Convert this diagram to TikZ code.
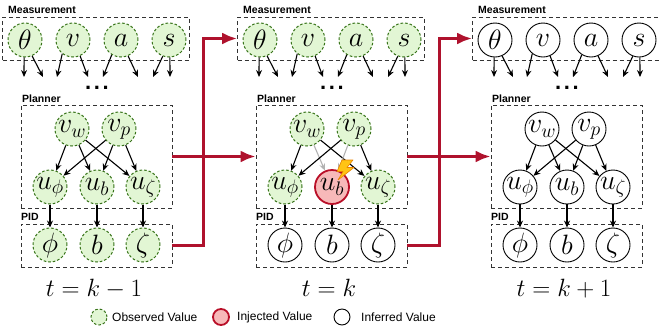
\RequirePackage{fix-cm}
\documentclass[tikz,border=0pt]{standalone}
\usepackage{fontspec}
\setsansfont{Liberation Sans}
\usetikzlibrary{arrows.meta,calc}
\definecolor{obsfill}{RGB}{226,246,212}
\definecolor{obsdraw}{RGB}{55,115,25}
\definecolor{injfill}{RGB}{247,185,185}
\definecolor{injdraw}{RGB}{185,15,40}
\definecolor{crim}{RGB}{175,18,45}
\definecolor{boltfill}{RGB}{255,196,20}
\definecolor{boltdraw}{RGB}{232,130,0}
\newcommand\mfont{\fontsize{28}{32}\selectfont}
\newcommand\drawpanel[9]{%
\begin{scope}[xshift=#1]
\node[box, minimum width=186.5pt, minimum height=43pt] (#2meas) at (95.75,38.5) {};
\node[lab] (#2measlab) at (8,13) {Measurement};
\node[#3] (#2th) at (25,40) {$\theta$};
\node[#3] (#2v) at (73,40) {$v$};
\node[#3] (#2a) at (121,40) {$a$};
\node[#3] (#2s) at (169,40) {$s$};
\coordinate (#2e1) at (24,77);
\coordinate (#2e2) at (43,77);
\coordinate (#2e3) at (57,77);
\coordinate (#2e4) at (88,77);
\coordinate (#2e5) at (103,77);
\coordinate (#2e6) at (138,77);
\coordinate (#2e7) at (153,77);
\coordinate (#2e8) at (170,77);
\draw[arr] (#2th.-93) -- (#2e1);
\draw[arr] (#2th.-66) -- (#2e2);
\draw[arr] (#2v.-128) -- (#2e3);
\draw[arr] (#2v.-66) -- (#2e4);
\draw[arr] (#2a.-122) -- (#2e5);
\draw[arr] (#2a.-66) -- (#2e6);
\draw[arr] (#2s.-111) -- (#2e7);
\draw[arr] (#2s.-87) -- (#2e8);
\node[dotsty] (#2dots) at (97,88) {.\kern2.6pt.\kern2.6pt.};
\node[box, minimum width=151pt, minimum height=103pt] (#2plan) at (96.5,156.5) {};
\node[lab] (#2planlab) at (22,102) {Planner};
\node[#4] (#2vw) at (72,129) {$v_w$};
\node[#4] (#2vp) at (119,129) {$v_p$};
\node[#5] (#2uf) at (50,187) {$u_\phi$};
\node[#6] (#2ub) at (97,187) {$u_b$};
\node[#5] (#2uz) at (143,187) {$u_\zeta$};
\node[box, minimum width=151pt, minimum height=43pt] (#2pid) at (96.5,245.5) {};
\node[lab] (#2pidlab) at (21,220) {PID};
\node[#7] (#2f) at (50,245) {$\phi$};
\node[#7] (#2b) at (97,245) {$b$};
\node[#7] (#2z) at (143,245) {$\zeta$};
\draw[arr] (#2vw) -- (#2uf);
\draw[arr, draw=#8] (#2vw) -- (#2ub);
\draw[arr] (#2vw) -- (#2uz);
\draw[arr] (#2vp) -- (#2uf);
\draw[arr, draw=#8] (#2vp) -- (#2ub);
\draw[arr] (#2vp) -- (#2uz);
\draw[arr] (#2uf) -- (#2f);
\draw[arr] (#2ub) -- (#2b);
\draw[arr] (#2uz) -- (#2z);
\node[tlab] (#2t) at (94,296) {$t=#9$};
\end{scope}}
\begin{document}
\begin{tikzpicture}[x=1pt,y=-1pt,
  every node/.style={inner sep=0pt},
  basec/.style={circle, minimum size=34pt, inner sep=0pt, font=\mfont},
  obs/.style={basec, fill=obsfill, draw=obsdraw, dash pattern=on 2.6pt off 2pt, line width=1pt},
  inj/.style={basec, fill=injfill, draw=injdraw, line width=1.8pt},
  inf/.style={basec, fill=white, draw=black, line width=0.9pt},
  box/.style={rectangle, draw=black!80, dash pattern=on 4pt off 3pt, line width=0.8pt},
  lab/.style={anchor=base west, font=\sffamily\bfseries\fontsize{10.5}{12}\selectfont},
  dotsty/.style={font=\sffamily\bfseries\fontsize{22}{24}\selectfont},
  tlab/.style={anchor=base, font=\fontsize{25}{29}\selectfont},
  arr/.style={-{Stealth[length=7pt,width=6pt]}, line width=1.1pt, draw=black},
  redarr/.style={-{Latex[length=15pt,width=12pt]}, line width=3.2pt, draw=crim},
  legtxt/.style={anchor=west, font=\sffamily\fontsize{12}{14}\selectfont},
  legobs/.style={obs, minimum size=16pt},
  leginj/.style={inj, minimum size=16pt},
  leginf/.style={inf, minimum size=16pt}]
\useasboundingbox (0,0) rectangle (659,333);
\drawpanel{0pt}{p1}{obs}{obs}{obs}{obs}{obs}{black}{k-1}
\drawpanel{235pt}{p2}{obs}{obs}{obs}{inj}{inf}{black!30}{k}
\drawpanel{470pt}{p3}{inf}{inf}{inf}{inf}{inf}{black}{k+1}
% lightning bolt
\begin{scope}[shift={(p2ub.center)}]
\filldraw[fill=boltfill, draw=boltdraw, line width=0.6pt, line join=round]
  (10,-27) -- (21,-27) -- (15,-19.5) -- (22,-19.5) -- (6,-7) -- (11,-15.5) -- (5,-15.5) -- cycle;
\end{scope}
% red arrows
\draw[redarr] (p1plan.east) -- (p2plan.west);
\draw[redarr] (p1pid.east) -| ($(p1pid.east)!0.48!(p2meas.west)$) |- (p2meas.west);
\draw[redarr] (p2plan.east) -- (p3plan.west);
\draw[redarr] (p2pid.east) -| ($(p2pid.east)!0.5!(p3meas.west)$) |- (p3meas.west);
% legend
\node[legobs] (lo) at (99,317) {};
\node[legtxt] (lot) at (112,317) {Observed Value};
\node[leginj] (li) at (221,317) {};
\node[legtxt] (lit) at (237,317) {Injected Value};
\node[leginf] (lf) at (342,317) {};
\node[legtxt] (lft) at (361,317) {Inferred Value};
\end{tikzpicture}
\end{document}
